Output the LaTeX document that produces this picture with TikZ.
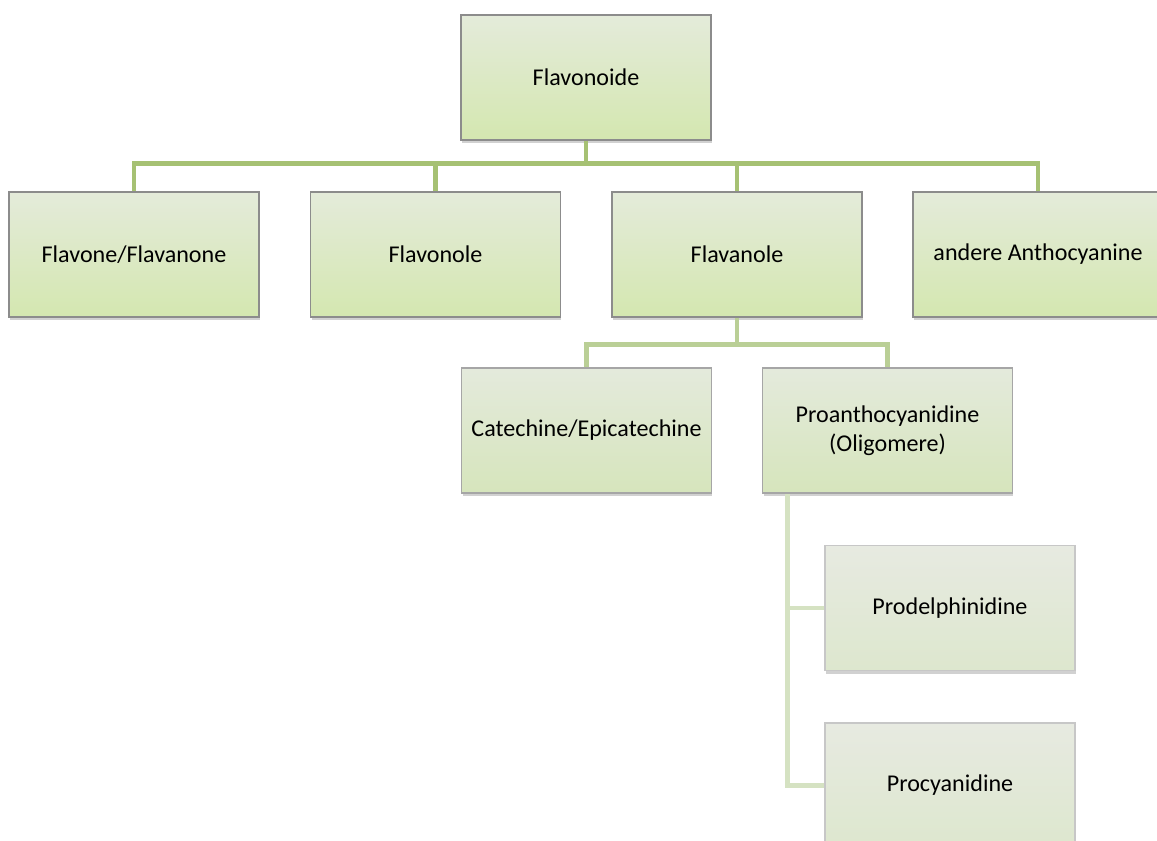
\documentclass[tikz,border=0pt]{standalone}
\usepackage{fontspec}
\setmainfont{Carlito}
\usetikzlibrary{calc,shadows}
\definecolor{lineone}{RGB}{166,193,115}
\definecolor{linetwo}{RGB}{186,207,150}
\definecolor{linethree}{RGB}{213,226,194}
\definecolor{topA}{RGB}{228,235,218}
\definecolor{botA}{RGB}{212,231,176}
\definecolor{topB}{RGB}{228,234,220}
\definecolor{botB}{RGB}{214,229,188}
\definecolor{topC}{RGB}{231,234,225}
\definecolor{botC}{RGB}{221,231,206}
\tikzset{
  box/.style={rectangle, minimum width=5cm, minimum height=2.5cm, align=center,
    font=\fontsize{13.7}{16.5}\selectfont, inner sep=2pt,
    drop shadow={shadow xshift=0.02cm, shadow yshift=-0.07cm, opacity=0.3, fill=black!60}},
  boxone/.style={box, draw=black!45, line width=0.9pt, top color=topA, bottom color=botA},
  boxtwo/.style={box, draw=black!35, line width=0.9pt, top color=topB, bottom color=botB},
  boxthree/.style={box, draw=black!22, line width=0.9pt, top color=topC, bottom color=botC},
  linkone/.style={draw=lineone, line width=2.8pt},
  linktwo/.style={draw=linetwo, line width=2.8pt},
  linkthree/.style={draw=linethree, line width=2.8pt}
}
\begin{document}
\begin{tikzpicture}[x=0.02cm, y=-0.02cm]
		\useasboundingbox (0,0) rectangle (1157,841);
		
		%%%%% BOXES %%%%%
		\node[boxone] (flavonoide) at (586,77.5) {Flavonoide};
		
		\node[boxone] (flavone) at (134,254.5) {Flavone/Flavanone};
		\node[boxone] (flavonole) at (435.5,254.5) {Flavonole};
		\node[boxone] (flavanole) at (737,254.5) {Flavanole};
		\node[boxone] (anthocyanine) at (1038,254.5) {andere Anthocyanine};
		
		\node[boxtwo] (catechine) at (586.5,430.5) {Catechine/Epicatechine};
		\node[boxtwo] (proantho) at (887.5,430.5) {Proanthocyanidine\\(Oligomere)};
		
		\node[boxthree] (prodel) at (950,608) {Prodelphinidine};
		\node[boxthree] (procya) at (950,785.5) {Procyanidine};
		
		%%%%% CONNECTORS %%%%%
		\coordinate (fork) at ($(proantho.south west)+(26,0)$);
		
		\draw[linkone] (flavonoide.south) -- ++(0,23) -| (flavone.north);
		\draw[linkone] (flavonoide.south) -- ++(0,23) -| (flavonole.north);
		\draw[linkone] (flavonoide.south) -- ++(0,23) -| (flavanole.north);
		\draw[linkone] (flavonoide.south) -- ++(0,23) -| (anthocyanine.north);
		
		\draw[linktwo] (flavanole.south) -- ++(0,27) -| (catechine.north);
		\draw[linktwo] (flavanole.south) -- ++(0,27) -| (proantho.north);
		
		\draw[linkthree] (fork) |- (prodel.west);
		\draw[linkthree] (fork) |- (procya.west);
		
		%%%%% END %%%%%
	\end{tikzpicture}
\end{document}
